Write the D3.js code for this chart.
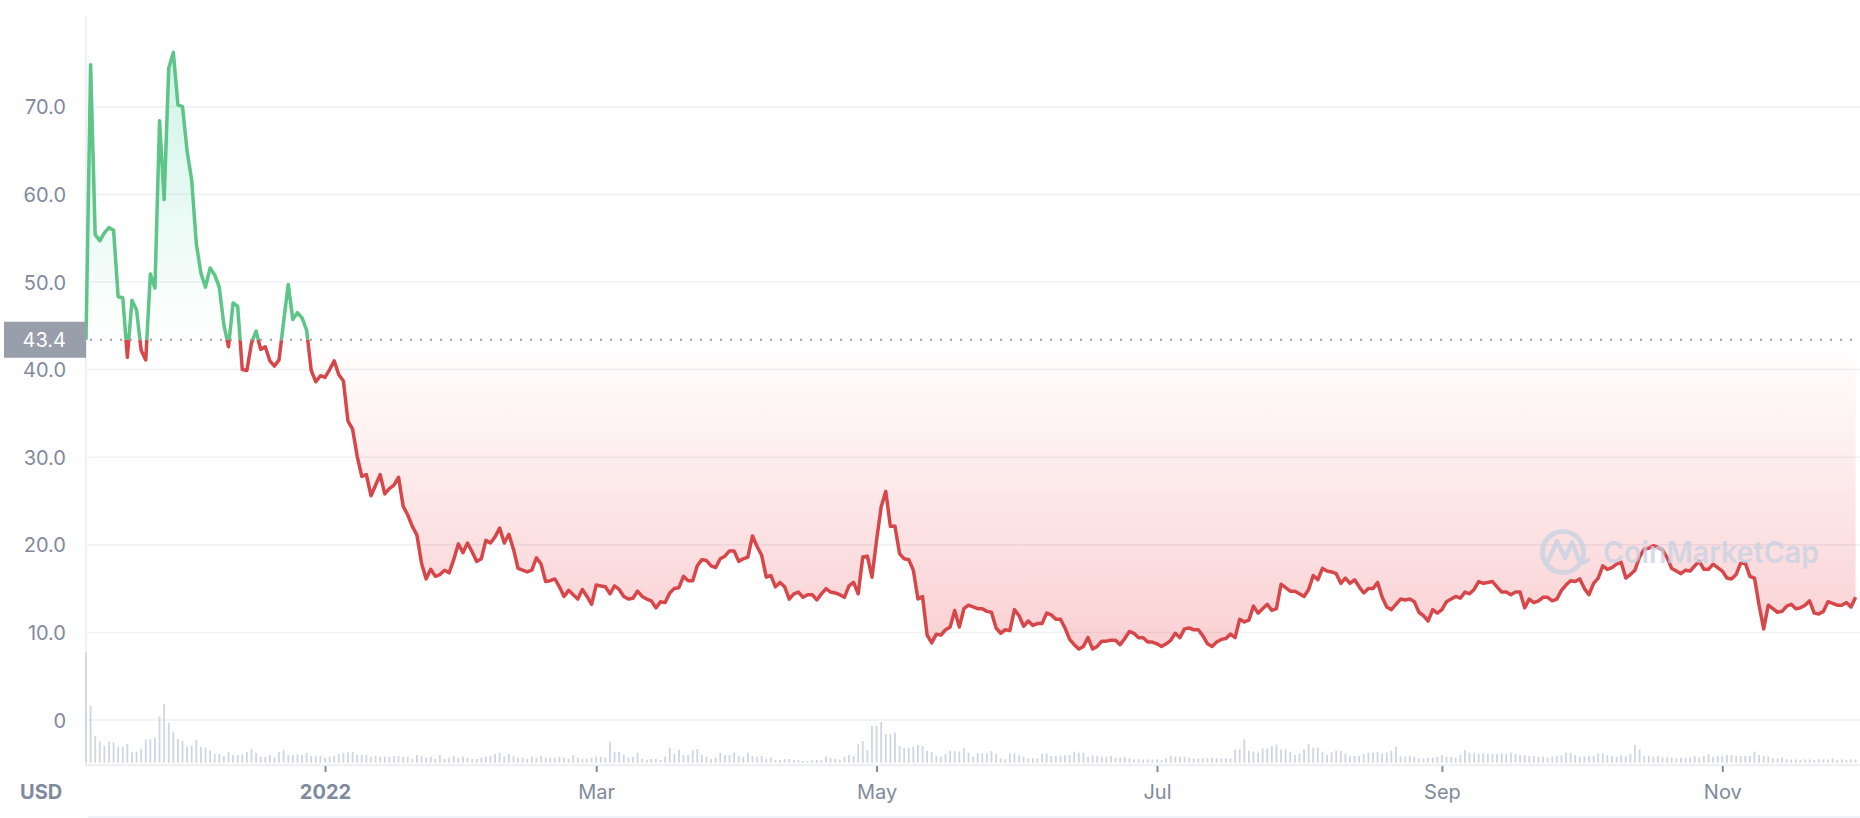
<!DOCTYPE html>
<html><head><meta charset="utf-8">
<script src="https://cdn.jsdelivr.net/npm/d3@7"></script>
<style>
html,body{margin:0;padding:0;background:#fff;overflow:hidden;}
svg{display:block;font-family:Inter,"Noto Sans",sans-serif;}
</style></head><body>
<svg id="chart" width="1860" height="818"></svg>
<script>
// ---- data ----
const startDate = "2021-11-10";
const endDate = "2022-11-30";
const prices = [
43.4,74.8,55.4,54.7,55.6,56.2,55.9,48.3,48.2,41.4,
47.9,46.8,42.2,41.1,50.9,49.3,68.4,59.4,74.4,76.2,
70.2,70.0,64.9,61.6,54.4,51.0,49.4,51.6,50.8,49.4,
45.1,42.6,47.6,47.2,40.0,39.9,43.0,44.4,42.3,42.6,
41.0,40.4,41.1,45.5,49.7,45.7,46.5,45.9,44.5,39.9,
38.6,39.3,39.1,40.0,41.0,39.4,38.7,34.1,33.2,30.1,
27.8,28.0,25.6,26.8,28.0,25.8,26.4,26.8,27.7,24.4,
23.4,22.1,21.1,17.9,16.1,17.2,16.4,16.6,17.1,16.8,
18.3,20.1,19.1,20.2,19.2,18.1,18.4,20.5,20.2,20.9,
21.9,20.2,21.2,19.5,17.3,17.1,16.9,17.1,18.5,17.8,
15.8,15.9,16.1,15.2,14.1,14.8,14.3,13.8,14.9,14.1,
13.2,15.4,15.3,15.2,14.4,15.3,14.9,14.1,13.8,13.9,
14.7,14.1,13.8,13.6,12.8,13.5,13.4,14.5,15.0,15.1,
16.4,15.9,15.9,17.6,18.3,18.2,17.6,17.4,18.4,18.7,
19.3,19.3,18.1,18.4,18.6,21.0,19.8,18.8,16.3,16.5,
15.2,15.7,15.2,13.8,14.4,14.6,14.0,14.3,14.3,13.7,
14.4,15.0,14.6,14.5,14.3,14.0,15.3,15.7,14.4,18.6,
18.7,16.3,20.5,24.3,26.1,22.1,22.1,19.0,18.4,18.3,
17.1,13.8,14.1,9.7,8.8,9.8,9.7,10.3,10.6,12.5,
10.6,12.7,13.1,12.9,12.7,12.7,12.4,12.3,10.5,9.9,
10.3,10.2,12.6,11.9,10.7,11.3,10.8,11.0,11.0,12.2,
12.0,11.5,11.5,10.5,9.2,8.6,8.1,8.4,9.4,8.1,
8.4,9.0,9.0,9.1,9.1,8.6,9.3,10.1,9.9,9.4,
9.4,8.9,8.9,8.7,8.4,8.7,9.1,9.9,9.4,10.4,
10.5,10.3,10.3,9.6,8.7,8.4,8.9,9.2,9.3,9.8,
9.4,11.5,11.2,11.4,13.0,12.2,12.7,13.2,12.5,12.7,
15.5,15.1,14.7,14.7,14.4,14.1,14.9,16.5,16.0,17.3,
17.0,16.9,16.7,15.6,16.2,15.6,16.0,15.2,14.5,15.0,
15.0,15.7,14.0,12.9,12.6,13.2,13.8,13.7,13.8,13.5,
12.3,11.9,11.3,12.6,12.2,12.6,13.5,13.8,14.1,13.9,
14.6,14.4,14.9,15.8,15.6,15.7,15.8,15.2,14.6,14.6,
14.3,14.6,14.6,12.8,13.8,13.4,13.6,14.0,14.0,13.6,
13.8,14.8,15.4,15.9,15.8,16.1,15.0,14.3,15.6,16.2,
17.6,17.2,17.4,17.8,18.0,16.2,16.6,17.1,18.6,19.5,
19.6,19.9,19.7,19.4,18.5,17.3,17.0,16.7,17.1,17.0,
17.6,18.1,17.2,17.2,17.8,17.4,17.0,16.2,16.1,16.6,
17.9,17.9,16.4,16.2,13.1,10.4,13.1,12.7,12.3,12.4,
13.0,13.2,12.7,12.8,13.1,13.6,12.2,12.1,12.4,13.5,
13.3,13.1,13.1,13.4,12.9,14.0
];
const volumes = [
110.4,56.7,26.7,21,16.7,21,20.3,16,16,18.7,
10.3,11,13.7,23.3,23.7,25,46,58.7,40,31,
23.7,22,16,17,22.7,16,15,12,8.7,8.7,
6.7,11,7.7,7.7,8.3,11,13.7,10,6,6,
7.7,5.3,11,12.7,7.7,7.7,8.3,7.7,10,6.7,
6.7,6.7,5,6,6.7,8.7,10,10.3,11,7.7,
7.7,7.7,6,6.7,6,6,6,6.7,6.7,6,
6,3.7,7.7,6.7,5,6,3.7,7.7,3.7,5,
6.7,5,6,5,3.7,3.7,5,6,6.7,8.7,
10,6,8.7,6.7,5,5,3.7,6,5,6.7,
5,5,5,6,5,3.7,7.7,5,3.7,3.7,
5,6,6,5,21,11,11,7.7,5,6,
10,3.7,2.7,3.7,3.7,2.7,6,15,8.7,12.7,
7.7,7.7,12.7,13.7,7.7,6,3.7,5,10,7.7,
7.7,10,6.7,6,10,6.7,6,6.7,3.7,5,
2.7,2.7,3.7,3.7,2.7,2.7,1.7,1.7,2.7,2.7,
2.7,6,5,3.7,2.7,6,7.7,6.7,18.7,21.7,
12.7,36.7,36.7,40.7,28.7,28.7,30,16.7,15,15,
16,17.7,16.7,11.7,11,6.7,6,8.7,11.7,11.7,
11,14.3,10,6,10,9.3,9.3,11.7,8.7,4.3,
3.3,9.3,9.3,7.3,6,4.3,4.3,4.3,9.3,9.3,
6.7,6.7,6.7,7.7,7.7,11,10,10,6,7.3,
6.7,6,6,6.7,5,5,6,4.3,3.3,3.3,
3.3,3.3,3.3,3.3,2.7,4.3,6.7,6,6,6,
5,4.3,4.3,4.3,4.3,5,4.3,4.3,4.3,4.3,
12.7,13.3,23.3,12,11,10,14.3,14.3,16.7,18.3,
13.3,13.3,11,7.7,9.3,13.3,18.7,15,15,11,
7.7,10.3,12,12,9.3,6.7,6.7,6.7,8.7,10,
10,11,9.3,10,12,16,6.7,6,6.7,6,
4.3,4.3,5,5,6,7.7,6,6,5,7.7,
12.7,10,10,9.3,9.3,8.7,8.7,8.7,9.3,8.7,
10,8.7,7.7,7.7,6.7,6.7,6,6,5,6,
6.7,7.7,10,10,7.7,6,6,6.7,6.7,9.3,
9.3,7.7,6.7,6,7.7,6.7,8.7,17.7,13.3,6.7,
6.7,6,6.7,5.3,5.3,5,4.3,5,5,5.3,
6.7,5.3,6.7,8.7,6,6.7,6.7,7.7,7.7,6.7,
6.7,6.7,6.7,11,7.7,6.7,6,4.3,4.3,5.3,
3.3,3.3,3.3,2.7,3.3,3.3,2.7,3.3,3.3,3.3,
4.3,2.7,3.3,2.7,3.3,3
];
const baselineValue = 43.4;
const yTicks = [0,10,20,30,40,50,60,70];
const yTickLabels = ["0","10.0","20.0","30.0","40.0","50.0","60.0","70.0"];
const xTickDates = ["2022-01-01","2022-03-01","2022-05-01","2022-07-01","2022-09-01","2022-11-01"];
const xTickLabels = ["2022","Mar","May","Jul","Sep","Nov"];

// ---- drawing ----
const W = 1860, H = 818;
const L = 86, R = 1860, T = 16, B = 765;
const parse = d3.utcParse("%Y-%m-%d");
const dates = d3.utcDay.range(parse(startDate), d3.utcDay.offset(parse(endDate), 1));
const data = prices.map((v, i) => ({date: dates[i], v: v, vol: volumes[i]}));

const x = d3.scaleUtc().domain([parse(startDate), parse(endDate)]).range([86, 1855.6]);
const y = d3.scaleLinear().domain([0, 70]).range([720, 106.7]);
const vy = d3.scaleLinear().domain([0, d3.max(volumes)]).range([762.7, 652.3]);

const textColor = "#808a9d";
const gridColor = "#eef0f4";
const green = "#5cc587", red = "#d7474a";

const svg = d3.select("#chart");
const defs = svg.append("defs");
const by = y(baselineValue);

const gG = defs.append("linearGradient").attr("id","gGreen").attr("gradientUnits","userSpaceOnUse")
  .attr("x1",0).attr("x2",0).attr("y1",by).attr("y2",60);
gG.append("stop").attr("offset",0).attr("stop-color","#16c784").attr("stop-opacity",0);
gG.append("stop").attr("offset",1).attr("stop-color","#16c784").attr("stop-opacity",0.2);
const gR = defs.append("linearGradient").attr("id","gRed").attr("gradientUnits","userSpaceOnUse")
  .attr("x1",0).attr("x2",0).attr("y1",by).attr("y2",680);
gR.append("stop").attr("offset",0).attr("stop-color","#ea3943").attr("stop-opacity",0);
gR.append("stop").attr("offset",1).attr("stop-color","#ea3943").attr("stop-opacity",0.26);

defs.append("clipPath").attr("id","clipAbove").append("rect").attr("x",0).attr("y",0).attr("width",W).attr("height",by);
defs.append("clipPath").attr("id","clipBelow").append("rect").attr("x",0).attr("y",by).attr("width",W).attr("height",H-by);

// grid
svg.append("g").selectAll("line").data(yTicks).join("line")
  .attr("x1",L).attr("x2",R).attr("y1",d=>y(d)).attr("y2",d=>y(d))
  .attr("stroke",gridColor).attr("stroke-width",1.5);
// left axis line & bottom line
svg.append("line").attr("x1",L).attr("x2",L).attr("y1",T).attr("y2",B).attr("stroke",gridColor).attr("stroke-width",2);
svg.append("line").attr("x1",L-1).attr("x2",R).attr("y1",B).attr("y2",B).attr("stroke",gridColor).attr("stroke-width",2);
svg.append("line").attr("x1",88).attr("x2",R).attr("y1",817).attr("y2",817).attr("stroke","#eef1f7").attr("stroke-width",2);

// volume bars
svg.append("g").selectAll("rect").data(data).join("rect")
  .attr("x",d=>x(d.date)-0.9).attr("width",1.8)
  .attr("y",d=>vy(d.vol)).attr("height",d=>vy(0)-vy(d.vol))
  .attr("fill","#cfd5e3");

// areas
const area = d3.area().x(d=>x(d.date)).y0(by).y1(d=>y(d.v));
const line = d3.line().x(d=>x(d.date)).y(d=>y(d.v));
svg.append("path").datum(data).attr("d",area).attr("fill","url(#gGreen)").attr("clip-path","url(#clipAbove)");
svg.append("path").datum(data).attr("d",area).attr("fill","url(#gRed)").attr("clip-path","url(#clipBelow)");
svg.append("path").datum(data).attr("d",line).attr("fill","none").attr("stroke",green).attr("stroke-width",3.5)
  .attr("stroke-linejoin","round").attr("clip-path","url(#clipAbove)");
svg.append("path").datum(data).attr("d",line).attr("fill","none").attr("stroke",red).attr("stroke-width",3.5)
  .attr("stroke-linejoin","round").attr("clip-path","url(#clipBelow)");

// baseline dotted
svg.append("line").attr("x1",L+4).attr("x2",R).attr("y1",by).attr("y2",by)
  .attr("stroke","#9a9eac").attr("stroke-width",2).attr("stroke-dasharray","2 8");

// watermark
const wm = svg.append("g").attr("opacity",0.75).attr("fill","none").attr("stroke","#c6d1e3");
wm.append("circle").attr("cx",1563).attr("cy",552).attr("r",20.5).attr("stroke-width",5);
wm.append("path").attr("d","M1548,561 L1557,541 L1565,558 L1572,542 L1578,558 Q1582,566 1588,560")
  .attr("stroke-width",4.5).attr("stroke-linejoin","round").attr("stroke-linecap","round");
svg.append("text").attr("x",1603).attr("y",563).attr("fill","#c6d1e3").attr("opacity",0.75)
  .attr("font-size",30).attr("font-weight",600).attr("textLength",216).attr("lengthAdjust","spacingAndGlyphs")
  .text("CoinMarketCap");

// y axis
const yAxis = d3.axisLeft(y).tickValues(yTicks).tickFormat((d,i)=>yTickLabels[i]).tickSize(0).tickPadding(0);
const gy = svg.append("g").attr("transform","translate(66,0)").call(yAxis);
gy.select(".domain").remove();
gy.selectAll("text").attr("fill",textColor).attr("font-size",20).attr("font-family","Inter,'Noto Sans',sans-serif").attr("dy","0.36em");

// x axis
const xAxis = d3.axisBottom(x).tickValues(xTickDates.map(parse)).tickFormat((d,i)=>xTickLabels[i]).tickSize(6).tickPadding(0);
const gx = svg.append("g").attr("transform",`translate(0,${B+1})`).call(xAxis);
gx.select(".domain").remove();
gx.selectAll(".tick line").attr("stroke",textColor).attr("stroke-width",2);
gx.selectAll("text").attr("fill",textColor).attr("font-size",20).attr("font-family","Inter,'Noto Sans',sans-serif")
  .attr("y",33).attr("dy",0).attr("font-weight",(d,i)=>i===0?700:400);

svg.append("text").attr("x",20).attr("y",799).attr("fill",textColor).attr("font-size",20).attr("font-weight",700).text("USD");

// current value label
svg.append("rect").attr("x",4).attr("y",by-18).attr("width",L-4).attr("height",36).attr("fill","#999eab");
svg.append("text").attr("x",66).attr("y",by).attr("dy","0.36em").attr("text-anchor","end")
  .attr("fill","#ffffff").attr("font-size",20).text(baselineValue.toFixed(1));
</script>
</body></html>
